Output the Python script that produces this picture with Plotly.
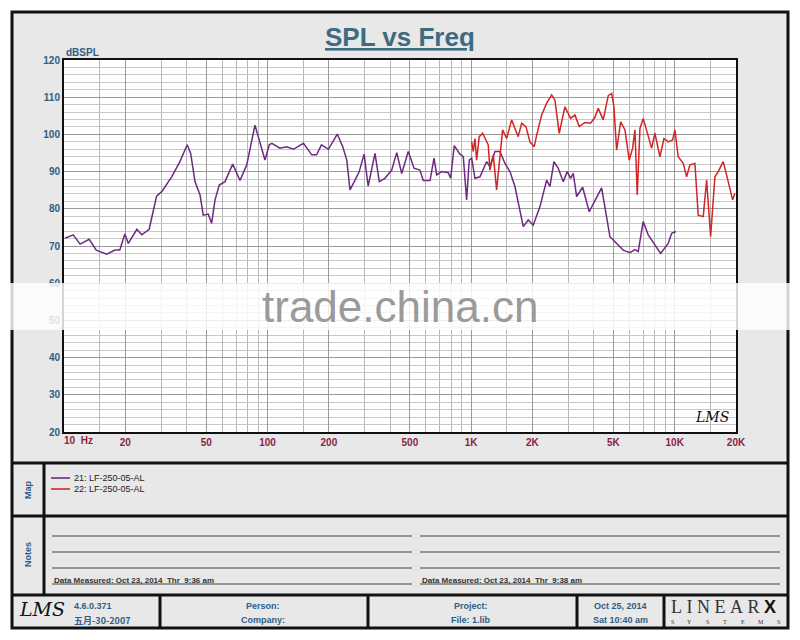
import plotly.graph_objects as go

# ---------------- data ----------------
freq_21 = [10.1, 11.1, 12.0, 13.3, 14.4, 16.2, 17.8, 18.8, 19.9, 20.7, 22.8, 24.1, 26.2,
           28.5, 30.2, 33.8, 37.1, 40.3, 41.9, 44.0, 46.6, 48.3, 51.1, 53.1, 55.2, 57.9,
           61.8, 67.4, 73.2, 79.0, 86.7, 91.8, 97.1, 102, 105, 115, 124, 134, 150, 165,
           174, 184, 199, 220, 234, 245, 254, 269, 282, 298, 312, 337, 354, 377, 407,
           431, 456, 491, 524, 560, 582, 628, 657, 677, 716, 772, 793, 826, 881, 915,
           950, 979, 1006, 1044, 1105, 1192, 1237, 1309, 1385, 1466, 1551, 1641, 1803,
           1907, 2018, 2178, 2349, 2438, 2551, 2678, 2834, 2965, 3081, 3173, 3298, 3529,
           3803, 4056, 4375, 4806, 5183, 5585, 6026, 6376, 6618, 7002, 7410, 7993, 8525,
           9293, 9656, 10137]
spl_21 = [72.1, 73.0, 70.5, 71.8, 68.9, 67.8, 68.9, 68.9, 73.2, 70.7, 74.5, 73.0, 74.5,
          83.4, 84.6, 88.6, 92.7, 97.2, 94.9, 87.3, 83.7, 78.3, 78.6, 76.1, 82.4, 86.4,
          87.3, 92.0, 87.6, 91.8, 102.5, 97.6, 93.1, 97.2, 97.6, 96.3, 96.7, 96.0, 97.6, 94.5,
          94.5, 97.2, 96.0, 100.1, 96.7, 93.1, 85.1, 87.7, 90.0, 94.7, 86.1, 94.9, 87.3, 88.2, 90.4,
          95.1, 89.5, 95.4, 90.9, 90.4, 87.6, 87.6, 93.6, 89.1, 90.0, 89.7, 88.2, 97.0, 94.7, 94.0,
          82.4, 93.1, 93.6, 88.2, 88.6, 92.7, 91.3, 95.4, 95.4, 92.2, 90.0, 86.0, 75.2,
          77.0, 75.6, 80.6, 87.7, 86.0, 92.7, 90.9, 87.3, 90.0, 88.2, 89.5, 83.3, 85.8,
          79.2, 82.2, 85.6, 72.5, 70.7, 68.9, 68.2, 69.0, 68.5, 76.6, 73.0, 70.3, 68.0,
          70.7, 73.4, 73.9]

freq_22 = [1006, 1024, 1044, 1064, 1096, 1139, 1182, 1213, 1237, 1284, 1334, 1374, 1428,
           1494, 1581, 1641, 1703, 1770, 1858, 1945, 2042, 2098, 2220, 2349, 2486, 2580,
           2708, 2888, 3081, 3235, 3396, 3622, 3863, 4056, 4210, 4455, 4715, 4899, 5028,
           5183, 5425, 5695, 5978, 6212, 6376, 6544, 6748, 7002, 7325, 7701, 7993, 8459,
           8851, 9293, 9765, 10023, 10404, 11010, 11442, 11877, 12567, 13045, 13804,
           14345, 15010, 15757, 16356, 17308, 18316, 19249, 19757]
spl_22 = [98.0, 95.4, 98.9, 93.1, 99.4, 100.3, 98.5, 97.2, 90.4, 94.5, 85.1, 93.1, 101.2,
          98.9, 103.9, 101.6, 99.4, 103.0, 102.1, 98.0, 96.7, 99.8, 105.2, 108.4, 110.6, 109.2,
          100.3, 107.4, 104.3, 105.2, 102.1, 103.2, 103.0, 104.6, 107.0, 103.9, 110.4, 111.0, 107.4,
          95.8, 103.4, 101.2, 93.1, 96.3, 101.2, 83.7, 101.6, 104.3, 100.3, 96.3, 100.3, 94.0,
          98.9, 98.0, 98.5, 101.2, 94.0, 92.2, 88.6, 91.8, 92.2, 78.3, 77.9,
          87.7, 72.5, 88.6, 90.0, 92.7, 87.3, 82.4, 84.2]

series_names = ["21: LF-250-05-AL", "22: LF-250-05-AL"]
series_colors = ["#6e2a80", "#d42424"]

x_tick_vals = [10, 20, 50, 100, 200, 500, 1000, 2000, 5000, 10000, 20000]
x_tick_text = ["", "20", "50", "100", "200", "500", "1K", "2K", "5K", "10K", "20K"]
x_minor_vals = [m * d for d in (10, 100, 1000, 10000) for m in (1.5, 3, 4, 6, 7, 8, 9)
                if m * d <= 20000]
y_tick_vals = [20, 30, 40, 50, 60, 70, 80, 90, 100, 110, 120]

FONT = "Liberation Sans, Arial, sans-serif"
BLUE = "#2f5d86"
MAROON = "#8a1f45"

# plot area in pixels: x 64..736, y 60..432
def PX(x):
    return (x - 64) / 672.0

def PY(y):
    return (432 - y) / 372.0

fig = go.Figure()
fig.add_trace(go.Scatter(x=freq_21, y=spl_21, mode="lines", name=series_names[0],
                         line=dict(color=series_colors[0], width=1.5), showlegend=False))
fig.add_trace(go.Scatter(x=freq_22, y=spl_22, mode="lines", name=series_names[1],
                         line=dict(color=series_colors[1], width=1.5), showlegend=False))

shapes = []
shapes.append(dict(type="rect", xref="paper", yref="paper", x0=PX(12), x1=PX(788),
                   y0=PY(12), y1=PY(628), fillcolor="#e8e8e8",
                   line=dict(color="#111", width=3), layer="below"))
shapes.append(dict(type="rect", xref="paper", yref="paper", x0=0, x1=1, y0=0, y1=1,
                   fillcolor="white", line=dict(width=0), layer="below"))

def hline(y, x0, x1, w=3, color="#111"):
    shapes.append(dict(type="line", xref="paper", yref="paper", x0=PX(x0), x1=PX(x1),
                       y0=PY(y), y1=PY(y), line=dict(color=color, width=w)))

def vline(x, y0, y1, w=3, color="#111"):
    shapes.append(dict(type="line", xref="paper", yref="paper", x0=PX(x), x1=PX(x),
                       y0=PY(y0), y1=PY(y1), line=dict(color=color, width=w)))

hline(463, 12, 788)
hline(516, 12, 788)
hline(595, 12, 788)
vline(44, 463, 595)
for xv in (160, 368, 577, 664):
    vline(xv, 595, 628)

for yv in (536, 552, 568, 584):
    hline(yv, 52, 412, w=1, color="#444")
    hline(yv, 420, 780, w=1, color="#444")

shapes.append(dict(type="line", xref="paper", yref="paper", x0=PX(51), x1=PX(70),
                   y0=PY(478), y1=PY(478), line=dict(color=series_colors[0], width=1.6)))
shapes.append(dict(type="line", xref="paper", yref="paper", x0=PX(51), x1=PX(70),
                   y0=PY(489), y1=PY(489), line=dict(color=series_colors[1], width=1.6)))

# watermark band
shapes.append(dict(type="rect", xref="paper", yref="paper", x0=PX(0), x1=PX(800),
                   y0=PY(283), y1=PY(330), fillcolor="rgba(255,255,255,0.82)",
                   line=dict(width=0), layer="above"))

ann = []

def text(x, y, s, size=9, color="#222", xanchor="center", bold=False, family=FONT,
         textangle=0, yanchor="middle"):
    if bold:
        s = "<b>" + s + "</b>"
    ann.append(dict(x=PX(x), y=PY(y), xref="paper", yref="paper", text=s, showarrow=False,
                    xanchor=xanchor, yanchor=yanchor, textangle=textangle,
                    font=dict(size=size, color=color, family=family)))

text(400, 37, "<u>SPL vs Freq</u>", size=26, color="#3d6b80", bold=True)
text(64, 52, "dBSPL", size=10, color=BLUE, xanchor="left", bold=True)
text(62, 440, "10&nbsp;&nbsp;Hz", size=10, color=MAROON, xanchor="left", bold=True)
text(712, 417, "<i>LMS</i>", size=14, color="#111", family="DejaVu Serif, serif")

text(28, 490, "Map", size=9, color=BLUE, bold=True, textangle=-90)
text(28, 555, "Notes", size=9, color=BLUE, bold=True, textangle=-90)
text(72, 478, series_names[0], size=9, color="#222", xanchor="left")
text(72, 489, series_names[1], size=9, color="#222", xanchor="left")

text(52, 580, "Data Measured: Oct 23, 2014&nbsp;&nbsp;Thr&nbsp;&nbsp;9:36 am", size=8,
     color="#333", xanchor="left", bold=True)
text(420, 580, "Data Measured: Oct 23, 2014&nbsp;&nbsp;Thr&nbsp;&nbsp;9:38 am", size=8,
     color="#333", xanchor="left", bold=True)

# footer
text(42, 609, "<i>LMS</i>", size=19, color="#111", family="DejaVu Serif, serif")
text(72, 606, "4.6.0.371", size=9, color=BLUE, xanchor="left", bold=True)
text(72, 620, "五月-30-2007", size=9, color=BLUE, xanchor="left", bold=True,
     family="Noto Sans CJK SC, " + FONT)
text(263, 606, "Person:", size=9, color=BLUE, bold=True)
text(263, 620, "Company:", size=9, color=BLUE, bold=True)
text(471, 606, "Project:", size=9, color=BLUE, bold=True)
text(471, 620, "File: 1.lib", size=9, color=BLUE, bold=True)
text(620, 606, "Oct 25, 2014", size=9, color=BLUE, bold=True)
text(620, 620, "Sat 10:40 am", size=9, color=BLUE, bold=True)
text(669, 607, "L&nbsp;I&nbsp;N&nbsp;E&nbsp;A&nbsp;R&nbsp;<span style=\"font-family:'Liberation Sans';font-weight:bold;color:#111\">X</span>",
     size=18, color="#333", xanchor="left", family="Liberation Serif, serif")
for i, ch in enumerate("SYSTEMS"):
    text(672 + i * 17.7, 622, ch, size=6, color="#333", family="Liberation Serif, serif")

# watermark text
text(400, 306, "trade.china.cn", size=44, color="#9a9a9a")

fig.update_layout(
    width=800, height=640,
    margin=dict(l=64, r=64, t=60, b=208, autoexpand=False),
    paper_bgcolor="white", plot_bgcolor="white",
    shapes=shapes, annotations=ann, showlegend=False,
    font=dict(family=FONT),
)
fig.update_xaxes(type="log", range=[1, 4.30103], tickmode="array", tickvals=x_tick_vals,
                 ticktext=x_tick_text, showgrid=True, gridcolor="#9a9a9a", gridwidth=1,
                 minor=dict(tickmode="array", tickvals=x_minor_vals, showgrid=True,
                            gridcolor="#b8b8b8", gridwidth=1),
                 showline=True, mirror=True, linecolor="#111", linewidth=2, ticks="",
                 tickfont=dict(size=10, color=MAROON, family=FONT, weight="bold"),
                 zeroline=False)
fig.update_yaxes(range=[20, 120], tickmode="array", tickvals=y_tick_vals,
                 showgrid=True, gridcolor="#9a9a9a", gridwidth=1,
                 minor=dict(dtick=2, showgrid=True, gridcolor="#c8c8c8", gridwidth=1),
                 showline=True, mirror=True, linecolor="#111", linewidth=2, ticks="",
                 tickfont=dict(size=10, color=BLUE, family=FONT, weight="bold"),
                 zeroline=False)

fig.write_html("out.html")
